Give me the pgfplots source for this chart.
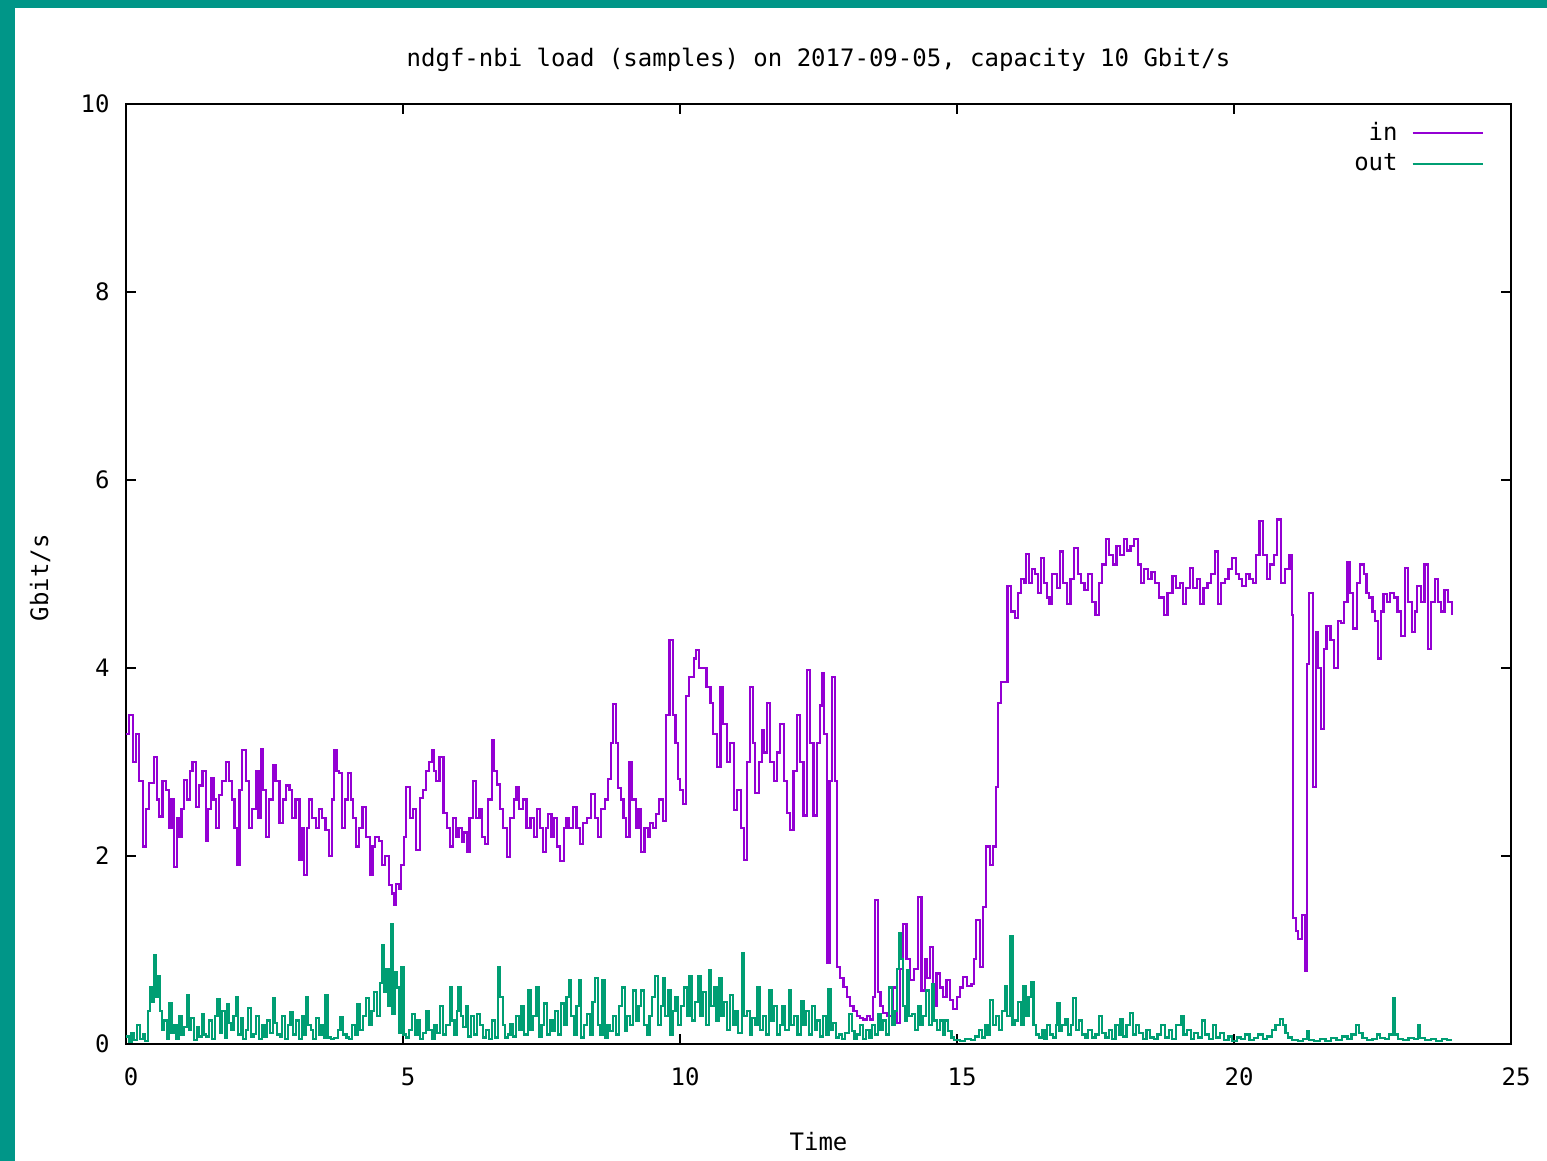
\documentclass[border=0pt]{standalone}
\usepackage{fontspec}
\setmainfont{DejaVu Sans Mono}
\usepackage{pgfplots}
\pgfplotsset{compat=1.18}
\definecolor{inc}{HTML}{9400D3}
\definecolor{outc}{HTML}{009E73}
\definecolor{teal0}{HTML}{009688}
\begin{document}
\begin{tikzpicture}
\fill[white] (0pt,0pt) rectangle (773.5pt,580.5pt);
\fill[teal0] (0pt,0pt) rectangle (7.5pt,580.5pt);
\fill[teal0] (0pt,576.5pt) rectangle (773.5pt,580.5pt);
\begin{axis}[
  at={(63pt,58.5pt)}, anchor=south west,
  width=692.5pt, height=470pt, scale only axis,
  xmin=0, xmax=25, ymin=0, ymax=10,
  xtick={0,5,10,15,20,25}, ytick={0,2,4,6,8,10},
  tick align=inside, major tick length=5pt,
  axis line style={line width=1pt},
  every tick/.style={black, line width=1pt},
  font=\fontsize{12pt}{14pt}\selectfont,
  /pgf/number format/assume math mode=true,
  xticklabel style={anchor=center, yshift=-16.5pt, xshift=2.5pt},
  yticklabel style={anchor=east, inner sep=0pt, xshift=-8pt},
  title={ndgf-nbi load (samples) on 2017-09-05, capacity 10 Gbit/s},
  title style={at={(axis description cs:0.5,1)}, anchor=center, yshift=16pt},
  xlabel={Time},
  xlabel style={at={(axis description cs:0.5,0)}, anchor=center, yshift=-49pt},
  ylabel={Gbit/s},
  ylabel style={at={(axis description cs:-0.062,0.496)}, anchor=center, rotate=0},
  legend plot pos=right,
  legend cell align=right,
  legend image code/.code={\draw[#1, line width=1pt] (0pt,0pt) -- (35pt,0pt);},
  legend style={at={(rel axis cs:1,1)}, anchor=north east, xshift=-13.5pt, yshift=-7pt,
    draw=none, fill=none, inner sep=0pt, row sep=1.2pt, column sep=5pt,
    font=\fontsize{12pt}{14pt}\selectfont},
]
\addplot[const plot, color=inc, line width=1.1pt] coordinates {
(0,3.3) (0.05,3.5) (0.12,3.0) (0.18,3.3) (0.24,2.8) (0.3,2.1) (0.36,2.5) (0.42,2.78) (0.51,3.05) (0.56,2.6)
(0.6,2.42) (0.66,2.8) (0.72,2.7) (0.78,2.3) (0.82,2.6) (0.87,1.88) (0.92,2.4) (0.96,2.2) (1.0,2.5) (1.05,2.81)
(1.1,2.6) (1.15,2.9) (1.2,3.0) (1.26,2.52) (1.32,2.75) (1.38,2.9) (1.44,2.16) (1.48,2.5) (1.53,2.83) (1.58,2.6)
(1.62,2.3) (1.68,2.65) (1.74,2.8) (1.8,3.0) (1.86,2.8) (1.92,2.6) (1.96,2.3) (2.0,1.9) (2.05,2.7) (2.1,3.13)
(2.16,2.8) (2.22,2.3) (2.28,2.5) (2.34,2.9) (2.39,2.4) (2.44,3.14) (2.48,2.7) (2.53,2.2) (2.58,2.6) (2.65,2.97)
(2.7,2.8) (2.77,2.35) (2.83,2.6) (2.89,2.75) (2.95,2.7) (3.0,2.4) (3.06,2.6) (3.13,1.96) (3.18,2.3) (3.22,1.8)
(3.26,2.3) (3.3,2.6) (3.36,2.4) (3.43,2.3) (3.48,2.5) (3.54,2.4) (3.6,2.28) (3.67,2.0) (3.72,2.6) (3.76,3.13)
(3.8,2.9) (3.85,2.88) (3.9,2.3) (3.95,2.6) (4.0,2.88) (4.06,2.6) (4.1,2.4) (4.15,2.1) (4.2,2.3) (4.27,2.52)
(4.33,2.2) (4.4,1.8) (4.45,2.1) (4.5,2.2) (4.57,2.16) (4.62,1.9) (4.68,2.0) (4.75,1.69) (4.8,1.6) (4.84,1.48)
(4.88,1.7) (4.93,1.65) (4.97,1.9) (5.02,2.2) (5.06,2.73) (5.12,2.4) (5.18,2.5) (5.24,2.06) (5.3,2.62) (5.36,2.7)
(5.42,2.9) (5.47,3.0) (5.52,3.13) (5.56,2.9) (5.6,2.8) (5.66,3.05) (5.73,2.46) (5.8,2.3) (5.85,2.1) (5.9,2.4)
(5.95,2.2) (6.0,2.3) (6.06,2.15) (6.1,2.25) (6.15,2.04) (6.2,2.4) (6.27,2.8) (6.32,2.4) (6.38,2.5) (6.43,2.2)
(6.48,2.13) (6.54,2.6) (6.6,3.23) (6.64,2.9) (6.69,2.76) (6.75,2.5) (6.8,2.3) (6.87,1.99) (6.93,2.4) (7.0,2.6)
(7.05,2.73) (7.1,2.5) (7.16,2.6) (7.23,2.3) (7.3,2.4) (7.36,2.2) (7.42,2.5) (7.48,2.3) (7.53,2.04) (7.58,2.3)
(7.62,2.45) (7.68,2.2) (7.73,2.4) (7.78,2.1) (7.83,1.95) (7.9,2.3) (7.95,2.4) (8.0,2.3) (8.07,2.52) (8.13,2.3)
(8.19,2.13) (8.25,2.35) (8.32,2.4) (8.4,2.66) (8.46,2.4) (8.52,2.2) (8.58,2.5) (8.64,2.6) (8.7,2.82) (8.75,3.2)
(8.79,3.62) (8.84,3.2) (8.88,2.72) (8.93,2.6) (8.98,2.4) (9.03,2.2) (9.09,3.0) (9.14,2.6) (9.2,2.3) (9.25,2.5)
(9.3,2.04) (9.36,2.3) (9.42,2.2) (9.46,2.35) (9.51,2.3) (9.56,2.45) (9.62,2.6) (9.69,2.37) (9.75,3.5) (9.81,4.3)
(9.87,3.5) (9.92,3.2) (9.96,2.82) (10.0,2.7) (10.05,2.55) (10.11,3.7) (10.16,3.9) (10.2,3.9) (10.25,4.1) (10.29,4.19)
(10.35,4.0) (10.42,4.0) (10.48,3.8) (10.55,3.63) (10.6,3.3) (10.67,2.95) (10.73,3.8) (10.78,3.4) (10.85,3.0) (10.9,3.2)
(10.97,2.49) (11.03,2.7) (11.1,2.3) (11.15,1.96) (11.21,3.0) (11.27,3.8) (11.32,3.2) (11.36,2.67) (11.42,3.0) (11.48,3.34)
(11.52,3.1) (11.57,3.63) (11.63,3.0) (11.69,2.8) (11.75,3.1) (11.81,3.4) (11.87,2.8) (11.93,2.46) (11.99,2.28) (12.05,2.9)
(12.11,3.5) (12.17,3.0) (12.23,2.43) (12.29,3.98) (12.35,3.2) (12.41,2.43) (12.47,3.2) (12.52,3.6) (12.56,3.95) (12.6,3.3)
(12.65,0.86) (12.7,2.8) (12.74,3.9) (12.8,2.8) (12.83,0.82) (12.89,0.7) (12.95,0.61) (13.01,0.5) (13.07,0.4) (13.13,0.35)
(13.2,0.3) (13.25,0.28) (13.31,0.26) (13.37,0.3) (13.43,0.26) (13.48,0.5) (13.52,1.53) (13.58,0.55) (13.62,0.4) (13.67,0.33)
(13.73,0.3) (13.79,0.3) (13.85,0.6) (13.91,0.22) (13.97,0.8) (14.03,1.28) (14.09,0.9) (14.15,0.68) (14.22,0.8) (14.3,1.56)
(14.36,0.57) (14.42,0.9) (14.46,0.7) (14.51,1.03) (14.57,0.4) (14.63,0.75) (14.69,0.6) (14.75,0.5) (14.81,0.68) (14.87,0.47)
(14.93,0.37) (15.0,0.5) (15.06,0.6) (15.11,0.71) (15.18,0.62) (15.26,0.64) (15.3,0.9) (15.35,1.32) (15.41,0.82) (15.47,1.46)
(15.53,2.1) (15.59,1.9) (15.65,2.1) (15.71,2.73) (15.74,3.63) (15.79,3.85) (15.85,3.85) (15.91,4.87) (15.97,4.6) (16.04,4.53)
(16.1,4.8) (16.16,4.95) (16.22,4.9) (16.25,5.21) (16.3,4.9) (16.36,5.05) (16.41,5.0) (16.46,4.8) (16.51,5.17) (16.57,4.9)
(16.62,4.75) (16.67,4.68) (16.72,5.0) (16.8,4.85) (16.86,5.24) (16.92,4.9) (16.99,4.68) (17.05,4.95) (17.11,5.28) (17.18,5.0)
(17.24,4.9) (17.3,4.83) (17.36,5.0) (17.43,4.7) (17.5,4.56) (17.56,4.9) (17.62,5.1) (17.69,5.37) (17.75,5.2) (17.82,5.1)
(17.88,5.3) (17.94,5.2) (18.01,5.37) (18.07,5.25) (18.13,5.3) (18.2,5.37) (18.26,5.1) (18.32,4.9) (18.38,5.05) (18.45,4.95)
(18.51,5.02) (18.57,4.9) (18.64,4.75) (18.73,4.56) (18.8,4.8) (18.89,4.98) (18.95,4.85) (19.02,4.9) (19.08,4.68) (19.14,4.85)
(19.2,5.06) (19.26,4.85) (19.33,4.95) (19.39,4.68) (19.45,4.85) (19.52,4.9) (19.58,5.0) (19.65,5.24) (19.71,4.68) (19.77,4.9)
(19.84,4.95) (19.9,5.05) (19.96,5.17) (20.03,5.0) (20.09,4.95) (20.15,4.87) (20.22,5.0) (20.28,4.95) (20.34,4.9) (20.4,5.2)
(20.46,5.56) (20.52,5.2) (20.59,4.95) (20.65,5.1) (20.72,5.2) (20.78,5.58) (20.85,4.9) (20.92,5.05) (21.0,5.2) (21.04,4.56)
(21.07,1.34) (21.12,1.2) (21.16,1.12) (21.23,1.37) (21.29,0.78) (21.32,4.04) (21.35,4.8) (21.42,2.73) (21.48,4.38) (21.52,4.0)
(21.57,3.35) (21.62,4.2) (21.67,4.45) (21.74,4.3) (21.8,4.0) (21.87,4.5) (21.93,4.48) (21.99,4.7) (22.05,5.13) (22.1,4.8)
(22.15,4.42) (22.22,4.9) (22.28,5.1) (22.34,5.0) (22.39,4.8) (22.44,4.75) (22.5,4.6) (22.55,4.5) (22.6,4.1) (22.65,4.6)
(22.7,4.79) (22.76,4.7) (22.82,4.8) (22.89,4.75) (22.95,4.6) (23.02,4.34) (23.08,5.06) (23.14,4.7) (23.21,4.38) (23.26,4.6)
(23.31,4.87) (23.38,4.7) (23.44,5.1) (23.5,4.2) (23.56,4.7) (23.63,4.95) (23.68,4.7) (23.73,4.6) (23.8,4.83) (23.86,4.7)
(23.93,4.56)
};
\addlegendentry{in}
\addplot[const plot, color=outc, line width=1.1pt] coordinates {
(0.00,0.08) (0.05,0.02) (0.10,0.12) (0.15,0.04) (0.20,0.2) (0.25,0.05) (0.30,0.1) (0.35,0.03) (0.40,0.35) (0.43,0.6)
(0.47,0.45) (0.51,0.95) (0.54,0.5) (0.57,0.72) (0.61,0.35) (0.65,0.15) (0.69,0.25) (0.74,0.05) (0.78,0.44) (0.82,0.12)
(0.87,0.2) (0.91,0.05) (0.96,0.3) (1.00,0.1) (1.05,0.18) (1.10,0.52) (1.14,0.15) (1.18,0.28) (1.23,0.04) (1.28,0.18)
(1.32,0.08) (1.37,0.32) (1.41,0.1) (1.45,0.08) (1.50,0.25) (1.55,0.05) (1.60,0.3) (1.65,0.48) (1.69,0.12) (1.74,0.35)
(1.78,0.06) (1.82,0.42) (1.86,0.22) (1.90,0.15) (1.94,0.3) (1.98,0.5) (2.02,0.1) (2.07,0.28) (2.11,0.05) (2.16,0.15)
(2.20,0.38) (2.25,0.08) (2.30,0.11) (2.35,0.3) (2.40,0.05) (2.45,0.2) (2.50,0.08) (2.55,0.25) (2.60,0.12) (2.65,0.49)
(2.69,0.22) (2.73,0.1) (2.78,0.08) (2.82,0.3) (2.87,0.05) (2.92,0.2) (2.97,0.34) (3.02,0.1) (3.07,0.25) (3.12,0.05)
(3.17,0.3) (3.22,0.1) (3.25,0.5) (3.29,0.2) (3.34,0.15) (3.38,0.05) (3.43,0.28) (3.48,0.1) (3.53,0.2) (3.58,0.07)
(3.60,0.52) (3.64,0.07) (3.70,0.05) (3.76,0.06) (3.82,0.15) (3.87,0.29) (3.92,0.1) (3.98,0.07) (4.03,0.05) (4.08,0.2)
(4.13,0.1) (4.18,0.42) (4.23,0.15) (4.28,0.3) (4.33,0.49) (4.38,0.2) (4.43,0.35) (4.48,0.55) (4.53,0.3) (4.58,0.65)
(4.62,1.05) (4.66,0.55) (4.70,0.8) (4.74,0.4) (4.78,1.28) (4.81,0.32) (4.85,0.77) (4.89,0.6) (4.93,0.12) (4.97,0.82)
(5.01,0.1) (5.06,0.07) (5.11,0.15) (5.16,0.32) (5.21,0.1) (5.26,0.25) (5.31,0.05) (5.36,0.12) (5.41,0.35) (5.46,0.15)
(5.52,0.05) (5.57,0.2) (5.62,0.12) (5.67,0.4) (5.72,0.1) (5.78,0.2) (5.85,0.6) (5.89,0.25) (5.93,0.1) (5.97,0.35)
(6.00,0.6) (6.04,0.3) (6.08,0.18) (6.13,0.4) (6.18,0.08) (6.23,0.3) (6.28,0.1) (6.34,0.32) (6.39,0.2) (6.45,0.07)
(6.50,0.15) (6.55,0.05) (6.60,0.25) (6.66,0.07) (6.71,0.82) (6.75,0.5) (6.80,0.2) (6.84,0.07) (6.89,0.1) (6.94,0.21)
(6.99,0.08) (7.04,0.3) (7.09,0.15) (7.14,0.4) (7.19,0.1) (7.26,0.57) (7.30,0.15) (7.35,0.3) (7.41,0.6) (7.45,0.08)
(7.50,0.2) (7.55,0.43) (7.60,0.1) (7.65,0.25) (7.70,0.14) (7.75,0.35) (7.80,0.1) (7.85,0.43) (7.90,0.2) (7.95,0.5)
(7.99,0.68) (8.03,0.3) (8.08,0.1) (8.13,0.4) (8.18,0.68) (8.22,0.07) (8.27,0.2) (8.32,0.32) (8.37,0.1) (8.42,0.45)
(8.47,0.7) (8.52,0.2) (8.56,0.1) (8.60,0.68) (8.64,0.07) (8.69,0.2) (8.74,0.14) (8.79,0.3) (8.84,0.1) (8.90,0.4)
(8.95,0.6) (9.00,0.14) (9.05,0.3) (9.10,0.2) (9.15,0.57) (9.20,0.25) (9.25,0.4) (9.30,0.57) (9.35,0.2) (9.40,0.1)
(9.45,0.3) (9.50,0.5) (9.55,0.72) (9.60,0.2) (9.65,0.4) (9.69,0.7) (9.73,0.3) (9.78,0.57) (9.83,0.1) (9.88,0.35)
(9.92,0.5) (9.97,0.2) (10.02,0.4) (10.07,0.6) (10.12,0.3) (10.17,0.72) (10.22,0.25) (10.27,0.45) (10.32,0.72) (10.37,0.3)
(10.42,0.55) (10.47,0.2) (10.52,0.79) (10.56,0.4) (10.61,0.6) (10.66,0.25) (10.70,0.7) (10.75,0.3) (10.80,0.45) (10.85,0.15)
(10.90,0.52) (10.95,0.2) (11.00,0.35) (11.05,0.12) (11.12,0.97) (11.16,0.3) (11.21,0.35) (11.26,0.1) (11.30,0.28) (11.35,0.2)
(11.40,0.6) (11.45,0.15) (11.50,0.3) (11.55,0.1) (11.60,0.57) (11.65,0.25) (11.70,0.4) (11.75,0.1) (11.80,0.2) (11.85,0.4)
(11.90,0.15) (11.97,0.57) (12.01,0.2) (12.06,0.3) (12.12,0.1) (12.18,0.46) (12.23,0.2) (12.28,0.35) (12.33,0.1) (12.38,0.4)
(12.43,0.15) (12.48,0.25) (12.53,0.08) (12.58,0.3) (12.63,0.1) (12.68,0.58) (12.72,0.15) (12.76,0.22) (12.81,0.07) (12.87,0.1)
(12.92,0.05) (12.98,0.12) (13.05,0.32) (13.10,0.14) (13.15,0.05) (13.20,0.1) (13.25,0.2) (13.30,0.05) (13.36,0.15) (13.42,0.07)
(13.47,0.2) (13.52,0.1) (13.57,0.32) (13.62,0.15) (13.67,0.25) (13.72,0.1) (13.77,0.6) (13.82,0.2) (13.87,0.35) (13.92,0.8)
(13.95,1.18) (13.99,0.9) (14.03,0.4) (14.07,0.25) (14.10,0.79) (14.14,0.3) (14.19,0.32) (14.24,0.15) (14.29,0.4) (14.34,0.2)
(14.39,0.3) (14.44,0.57) (14.49,0.2) (14.55,0.64) (14.59,0.25) (14.64,0.15) (14.69,0.25) (14.74,0.1) (14.79,0.25) (14.84,0.14)
(14.90,0.07) (14.95,0.04) (15.05,0.03) (15.15,0.05) (15.25,0.04) (15.32,0.08) (15.40,0.15) (15.45,0.07) (15.50,0.2) (15.55,0.1)
(15.60,0.47) (15.65,0.2) (15.70,0.3) (15.76,0.15) (15.81,0.35) (15.86,0.62) (15.90,0.3) (15.96,1.15) (16.00,0.2) (16.05,0.25)
(16.10,0.45) (16.15,0.2) (16.20,0.62) (16.25,0.3) (16.29,0.5) (16.33,0.66) (16.38,0.2) (16.43,0.1) (16.48,0.07) (16.53,0.15)
(16.58,0.05) (16.63,0.2) (16.68,0.1) (16.73,0.07) (16.78,0.2) (16.81,0.43) (16.85,0.14) (16.90,0.2) (16.96,0.27) (17.01,0.1)
(17.06,0.2) (17.10,0.49) (17.15,0.15) (17.20,0.25) (17.26,0.1) (17.32,0.07) (17.37,0.15) (17.43,0.07) (17.50,0.1) (17.56,0.3)
(17.62,0.12) (17.68,0.07) (17.74,0.15) (17.80,0.05) (17.86,0.2) (17.92,0.1) (17.95,0.26) (18.00,0.08) (18.06,0.2) (18.12,0.33)
(18.17,0.1) (18.23,0.2) (18.29,0.12) (18.35,0.05) (18.42,0.15) (18.48,0.07) (18.55,0.05) (18.62,0.1) (18.68,0.2) (18.75,0.07)
(18.82,0.15) (18.88,0.05) (18.95,0.2) (19.04,0.3) (19.09,0.1) (19.15,0.15) (19.22,0.05) (19.28,0.12) (19.35,0.07) (19.42,0.25)
(19.48,0.1) (19.55,0.05) (19.62,0.2) (19.68,0.07) (19.75,0.12) (19.82,0.04) (19.90,0.08) (19.97,0.03) (20.05,0.07) (20.12,0.05)
(20.20,0.1) (20.28,0.04) (20.36,0.06) (20.44,0.1) (20.52,0.05) (20.60,0.08) (20.68,0.15) (20.75,0.2) (20.83,0.27) (20.88,0.2)
(20.93,0.12) (20.98,0.07) (21.05,0.04) (21.15,0.03) (21.25,0.05) (21.32,0.14) (21.36,0.04) (21.45,0.03) (21.55,0.05) (21.65,0.03)
(21.75,0.06) (21.85,0.04) (21.95,0.08) (22.05,0.05) (22.12,0.1) (22.20,0.2) (22.26,0.12) (22.32,0.06) (22.40,0.04) (22.50,0.05)
(22.58,0.1) (22.64,0.06) (22.72,0.05) (22.80,0.1) (22.87,0.49) (22.90,0.1) (22.96,0.05) (23.05,0.04) (23.15,0.06) (23.25,0.05)
(23.32,0.2) (23.35,0.06) (23.45,0.04) (23.55,0.05) (23.65,0.03) (23.75,0.05) (23.85,0.04) (23.93,0.04)
};
\addlegendentry{out}
\end{axis}
\end{tikzpicture}
\end{document}
